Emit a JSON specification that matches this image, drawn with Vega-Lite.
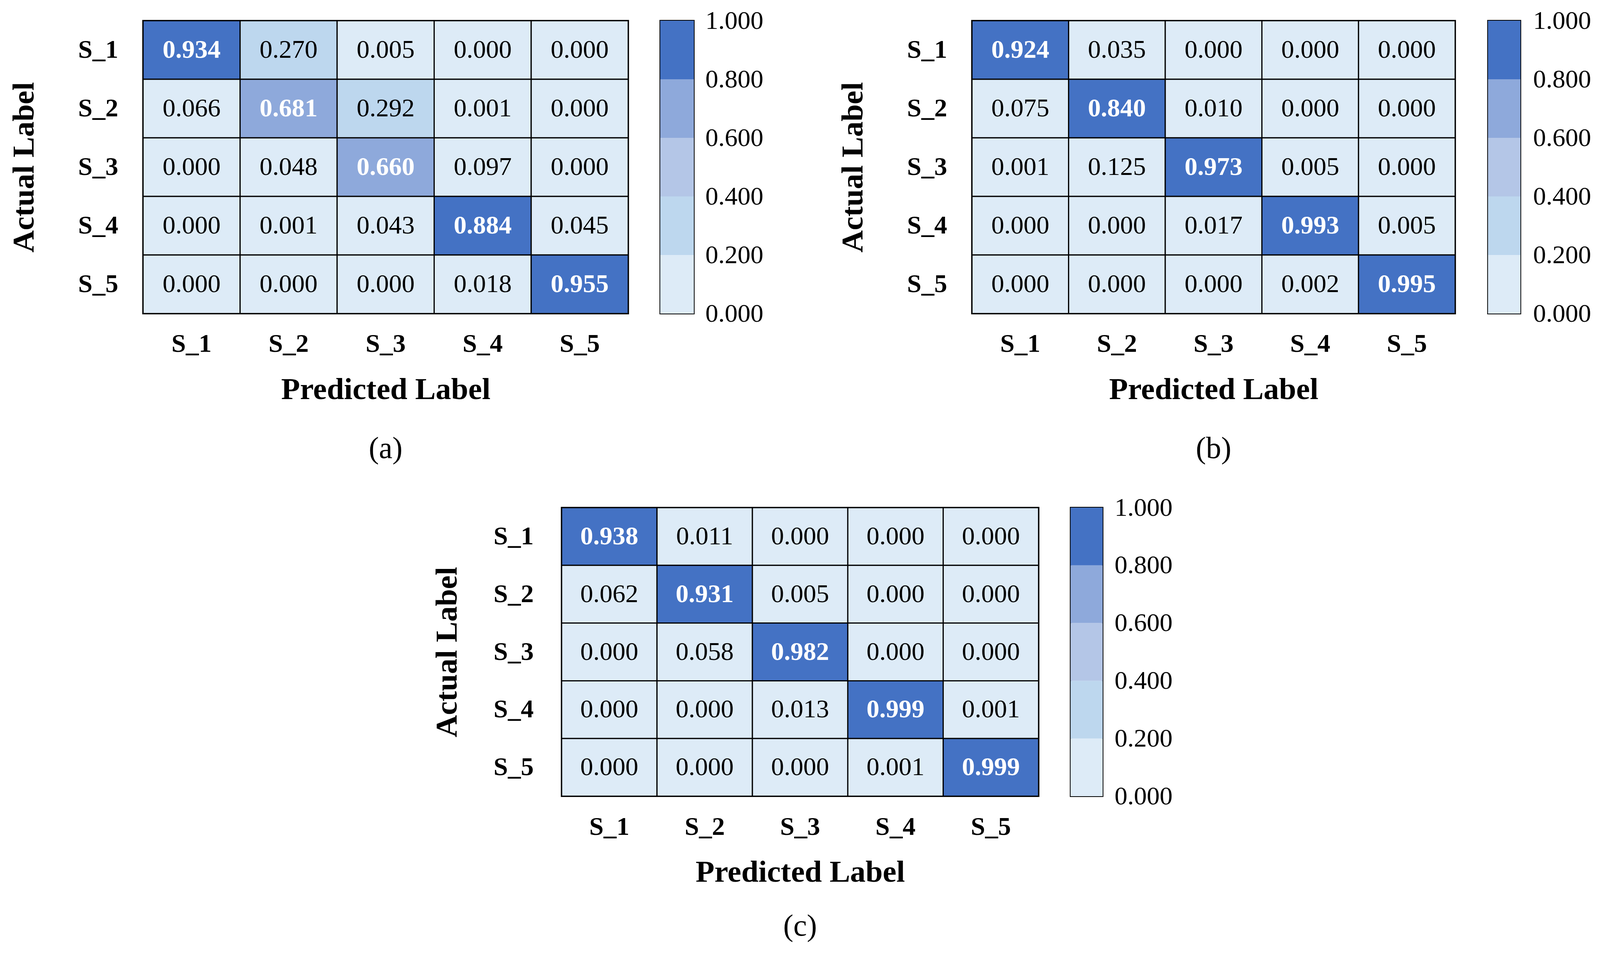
{
  "$schema": "https://vega.github.io/schema/vega-lite/v6.json",
  "background": "white",
  "padding": {"left": 20, "top": 18, "right": 0, "bottom": 0},
  "config": {
    "font": "Liberation Serif",
    "axis": {"labelFont": "Liberation Serif", "titleFont": "Liberation Serif", "labelColor": "black", "titleColor": "black", "ticks": false, "domain": false, "grid": false, "labelOverlap": false},
    "title": {"font": "Liberation Serif", "color": "black"}
  },
  "datasets": {
    "a": [
      {"a": "S_1", "p": "S_1", "v": 0.934}, {"a": "S_1", "p": "S_2", "v": 0.270}, {"a": "S_1", "p": "S_3", "v": 0.005}, {"a": "S_1", "p": "S_4", "v": 0.000}, {"a": "S_1", "p": "S_5", "v": 0.000},
      {"a": "S_2", "p": "S_1", "v": 0.066}, {"a": "S_2", "p": "S_2", "v": 0.681}, {"a": "S_2", "p": "S_3", "v": 0.292}, {"a": "S_2", "p": "S_4", "v": 0.001}, {"a": "S_2", "p": "S_5", "v": 0.000},
      {"a": "S_3", "p": "S_1", "v": 0.000}, {"a": "S_3", "p": "S_2", "v": 0.048}, {"a": "S_3", "p": "S_3", "v": 0.660}, {"a": "S_3", "p": "S_4", "v": 0.097}, {"a": "S_3", "p": "S_5", "v": 0.000},
      {"a": "S_4", "p": "S_1", "v": 0.000}, {"a": "S_4", "p": "S_2", "v": 0.001}, {"a": "S_4", "p": "S_3", "v": 0.043}, {"a": "S_4", "p": "S_4", "v": 0.884}, {"a": "S_4", "p": "S_5", "v": 0.045},
      {"a": "S_5", "p": "S_1", "v": 0.000}, {"a": "S_5", "p": "S_2", "v": 0.000}, {"a": "S_5", "p": "S_3", "v": 0.000}, {"a": "S_5", "p": "S_4", "v": 0.018}, {"a": "S_5", "p": "S_5", "v": 0.955}
    ],
    "b": [
      {"a": "S_1", "p": "S_1", "v": 0.924}, {"a": "S_1", "p": "S_2", "v": 0.035}, {"a": "S_1", "p": "S_3", "v": 0.000}, {"a": "S_1", "p": "S_4", "v": 0.000}, {"a": "S_1", "p": "S_5", "v": 0.000},
      {"a": "S_2", "p": "S_1", "v": 0.075}, {"a": "S_2", "p": "S_2", "v": 0.840}, {"a": "S_2", "p": "S_3", "v": 0.010}, {"a": "S_2", "p": "S_4", "v": 0.000}, {"a": "S_2", "p": "S_5", "v": 0.000},
      {"a": "S_3", "p": "S_1", "v": 0.001}, {"a": "S_3", "p": "S_2", "v": 0.125}, {"a": "S_3", "p": "S_3", "v": 0.973}, {"a": "S_3", "p": "S_4", "v": 0.005}, {"a": "S_3", "p": "S_5", "v": 0.000},
      {"a": "S_4", "p": "S_1", "v": 0.000}, {"a": "S_4", "p": "S_2", "v": 0.000}, {"a": "S_4", "p": "S_3", "v": 0.017}, {"a": "S_4", "p": "S_4", "v": 0.993}, {"a": "S_4", "p": "S_5", "v": 0.005},
      {"a": "S_5", "p": "S_1", "v": 0.000}, {"a": "S_5", "p": "S_2", "v": 0.000}, {"a": "S_5", "p": "S_3", "v": 0.000}, {"a": "S_5", "p": "S_4", "v": 0.002}, {"a": "S_5", "p": "S_5", "v": 0.995}
    ],
    "c": [
      {"a": "S_1", "p": "S_1", "v": 0.938}, {"a": "S_1", "p": "S_2", "v": 0.011}, {"a": "S_1", "p": "S_3", "v": 0.000}, {"a": "S_1", "p": "S_4", "v": 0.000}, {"a": "S_1", "p": "S_5", "v": 0.000},
      {"a": "S_2", "p": "S_1", "v": 0.062}, {"a": "S_2", "p": "S_2", "v": 0.931}, {"a": "S_2", "p": "S_3", "v": 0.005}, {"a": "S_2", "p": "S_4", "v": 0.000}, {"a": "S_2", "p": "S_5", "v": 0.000},
      {"a": "S_3", "p": "S_1", "v": 0.000}, {"a": "S_3", "p": "S_2", "v": 0.058}, {"a": "S_3", "p": "S_3", "v": 0.982}, {"a": "S_3", "p": "S_4", "v": 0.000}, {"a": "S_3", "p": "S_5", "v": 0.000},
      {"a": "S_4", "p": "S_1", "v": 0.000}, {"a": "S_4", "p": "S_2", "v": 0.000}, {"a": "S_4", "p": "S_3", "v": 0.013}, {"a": "S_4", "p": "S_4", "v": 0.999}, {"a": "S_4", "p": "S_5", "v": 0.001},
      {"a": "S_5", "p": "S_1", "v": 0.000}, {"a": "S_5", "p": "S_2", "v": 0.000}, {"a": "S_5", "p": "S_3", "v": 0.000}, {"a": "S_5", "p": "S_4", "v": 0.001}, {"a": "S_5", "p": "S_5", "v": 0.999}
    ],
    "bands": [
      {"lo": 0.0, "hi": 0.2, "mid": 0.1},
      {"lo": 0.2, "hi": 0.4, "mid": 0.3},
      {"lo": 0.4, "hi": 0.6, "mid": 0.5},
      {"lo": 0.6, "hi": 0.8, "mid": 0.7},
      {"lo": 0.8, "hi": 1.0, "mid": 0.9}
    ]
  },
  "center": true,
  "spacing": 74,
  "vconcat": [
    {
      "spacing": 186,
      "hconcat": [
        {
          "spacing": 76,
          "hconcat": [
            {
              "width": 1242, "height": 750,
              "data": {"name": "a"},
              "view": {"stroke": "black", "strokeWidth": 4},
              "title": {"text": "(a)", "orient": "bottom", "anchor": "middle", "frame": "group", "baseline": "top", "fontSize": 78, "fontWeight": "normal", "offset": 74},
              "encoding": {
                "x": {"field": "p", "type": "nominal", "axis": {"title": "Predicted Label", "titleFontSize": 79, "titleFontWeight": "bold", "titlePadding": 46, "labelFontSize": 66, "labelFontWeight": "bold", "labelPadding": 45, "labelAngle": 0}},
                "y": {"field": "a", "type": "nominal", "axis": {"title": "Actual Label", "titleFontSize": 79, "titleFontWeight": "bold", "titlePadding": 97, "labelFontSize": 66, "labelFontWeight": "bold", "labelPadding": 64}}
              },
              "layer": [
                {"mark": {"type": "rect", "stroke": "black", "strokeWidth": 3}, "encoding": {"fill": {"field": "v", "type": "quantitative", "scale": {"type": "threshold", "domain": [0.2, 0.4, 0.6, 0.8], "range": ["#DDEBF7", "#BDD7EE", "#B4C6E7", "#8EA9DB", "#4472C4"]}, "legend": null}}},
                {"transform": [{"filter": "datum.v < 0.6"}], "mark": {"type": "text", "fontSize": 66, "color": "black"}, "encoding": {"text": {"field": "v", "type": "quantitative", "format": ".3f"}}},
                {"transform": [{"filter": "datum.v >= 0.6"}], "mark": {"type": "text", "fontSize": 66, "fontWeight": "bold", "color": "white"}, "encoding": {"text": {"field": "v", "type": "quantitative", "format": ".3f"}}}
              ]
            },
            {
              "width": 86, "height": 750,
              "data": {"name": "bands"},
              "view": {"stroke": "black", "strokeWidth": 4},
              "mark": {"type": "rect"},
              "encoding": {
                "x": {"datum": 0, "type": "quantitative", "scale": {"domain": [0, 1]}, "axis": null},
                "x2": {"datum": 1},
                "y": {"field": "lo", "type": "quantitative", "scale": {"domain": [0, 1], "nice": false}, "axis": {"orient": "right", "title": null, "values": [0, 0.2, 0.4, 0.6, 0.8, 1], "format": ".3f", "labelFontSize": 66, "labelPadding": 29}},
                "y2": {"field": "hi"},
                "fill": {"field": "mid", "type": "quantitative", "scale": {"type": "threshold", "domain": [0.2, 0.4, 0.6, 0.8], "range": ["#DDEBF7", "#BDD7EE", "#B4C6E7", "#8EA9DB", "#4472C4"]}, "legend": null}
              }
            }
          ]
        },
        {
          "spacing": 78,
          "hconcat": [
            {
              "width": 1237, "height": 750,
              "data": {"name": "b"},
              "view": {"stroke": "black", "strokeWidth": 4},
              "title": {"text": "(b)", "orient": "bottom", "anchor": "middle", "frame": "group", "baseline": "top", "fontSize": 78, "fontWeight": "normal", "offset": 74},
              "encoding": {
                "x": {"field": "p", "type": "nominal", "axis": {"title": "Predicted Label", "titleFontSize": 79, "titleFontWeight": "bold", "titlePadding": 46, "labelFontSize": 66, "labelFontWeight": "bold", "labelPadding": 45, "labelAngle": 0}},
                "y": {"field": "a", "type": "nominal", "axis": {"title": "Actual Label", "titleFontSize": 79, "titleFontWeight": "bold", "titlePadding": 97, "labelFontSize": 66, "labelFontWeight": "bold", "labelPadding": 64}}
              },
              "layer": [
                {"mark": {"type": "rect", "stroke": "black", "strokeWidth": 3}, "encoding": {"fill": {"field": "v", "type": "quantitative", "scale": {"type": "threshold", "domain": [0.2, 0.4, 0.6, 0.8], "range": ["#DDEBF7", "#BDD7EE", "#B4C6E7", "#8EA9DB", "#4472C4"]}, "legend": null}}},
                {"transform": [{"filter": "datum.v < 0.6"}], "mark": {"type": "text", "fontSize": 66, "color": "black"}, "encoding": {"text": {"field": "v", "type": "quantitative", "format": ".3f"}}},
                {"transform": [{"filter": "datum.v >= 0.6"}], "mark": {"type": "text", "fontSize": 66, "fontWeight": "bold", "color": "white"}, "encoding": {"text": {"field": "v", "type": "quantitative", "format": ".3f"}}}
              ]
            },
            {
              "width": 83, "height": 750,
              "data": {"name": "bands"},
              "view": {"stroke": "black", "strokeWidth": 4},
              "mark": {"type": "rect"},
              "encoding": {
                "x": {"datum": 0, "type": "quantitative", "scale": {"domain": [0, 1]}, "axis": null},
                "x2": {"datum": 1},
                "y": {"field": "lo", "type": "quantitative", "scale": {"domain": [0, 1], "nice": false}, "axis": {"orient": "right", "title": null, "values": [0, 0.2, 0.4, 0.6, 0.8, 1], "format": ".3f", "labelFontSize": 66, "labelPadding": 32}},
                "y2": {"field": "hi"},
                "fill": {"field": "mid", "type": "quantitative", "scale": {"type": "threshold", "domain": [0.2, 0.4, 0.6, 0.8], "range": ["#DDEBF7", "#BDD7EE", "#B4C6E7", "#8EA9DB", "#4472C4"]}, "legend": null}
              }
            }
          ]
        }
      ]
    },
    {
      "spacing": 76,
      "hconcat": [
        {
          "width": 1221, "height": 739,
          "data": {"name": "c"},
          "view": {"stroke": "black", "strokeWidth": 4},
          "title": {"text": "(c)", "orient": "bottom", "anchor": "middle", "frame": "group", "baseline": "top", "fontSize": 78, "fontWeight": "normal", "offset": 61},
          "encoding": {
            "x": {"field": "p", "type": "nominal", "axis": {"title": "Predicted Label", "titleFontSize": 79, "titleFontWeight": "bold", "titlePadding": 45, "labelFontSize": 66, "labelFontWeight": "bold", "labelPadding": 46, "labelAngle": 0}},
            "y": {"field": "a", "type": "nominal", "axis": {"title": "Actual Label", "titleFontSize": 79, "titleFontWeight": "bold", "titlePadding": 78, "labelFontSize": 66, "labelFontWeight": "bold", "labelPadding": 72}}
          },
          "layer": [
            {"mark": {"type": "rect", "stroke": "black", "strokeWidth": 3}, "encoding": {"fill": {"field": "v", "type": "quantitative", "scale": {"type": "threshold", "domain": [0.2, 0.4, 0.6, 0.8], "range": ["#DDEBF7", "#BDD7EE", "#B4C6E7", "#8EA9DB", "#4472C4"]}, "legend": null}}},
            {"transform": [{"filter": "datum.v < 0.6"}], "mark": {"type": "text", "fontSize": 66, "color": "black"}, "encoding": {"text": {"field": "v", "type": "quantitative", "format": ".3f"}}},
            {"transform": [{"filter": "datum.v >= 0.6"}], "mark": {"type": "text", "fontSize": 66, "fontWeight": "bold", "color": "white"}, "encoding": {"text": {"field": "v", "type": "quantitative", "format": ".3f"}}}
          ]
        },
        {
          "width": 82, "height": 739,
          "data": {"name": "bands"},
          "view": {"stroke": "black", "strokeWidth": 4},
          "mark": {"type": "rect"},
          "encoding": {
            "x": {"datum": 0, "type": "quantitative", "scale": {"domain": [0, 1]}, "axis": null},
            "x2": {"datum": 1},
            "y": {"field": "lo", "type": "quantitative", "scale": {"domain": [0, 1], "nice": false}, "axis": {"orient": "right", "title": null, "values": [0, 0.2, 0.4, 0.6, 0.8, 1], "format": ".3f", "labelFontSize": 66, "labelPadding": 30}},
            "y2": {"field": "hi"},
            "fill": {"field": "mid", "type": "quantitative", "scale": {"type": "threshold", "domain": [0.2, 0.4, 0.6, 0.8], "range": ["#DDEBF7", "#BDD7EE", "#B4C6E7", "#8EA9DB", "#4472C4"]}, "legend": null}
          }
        }
      ]
    }
  ]
}
